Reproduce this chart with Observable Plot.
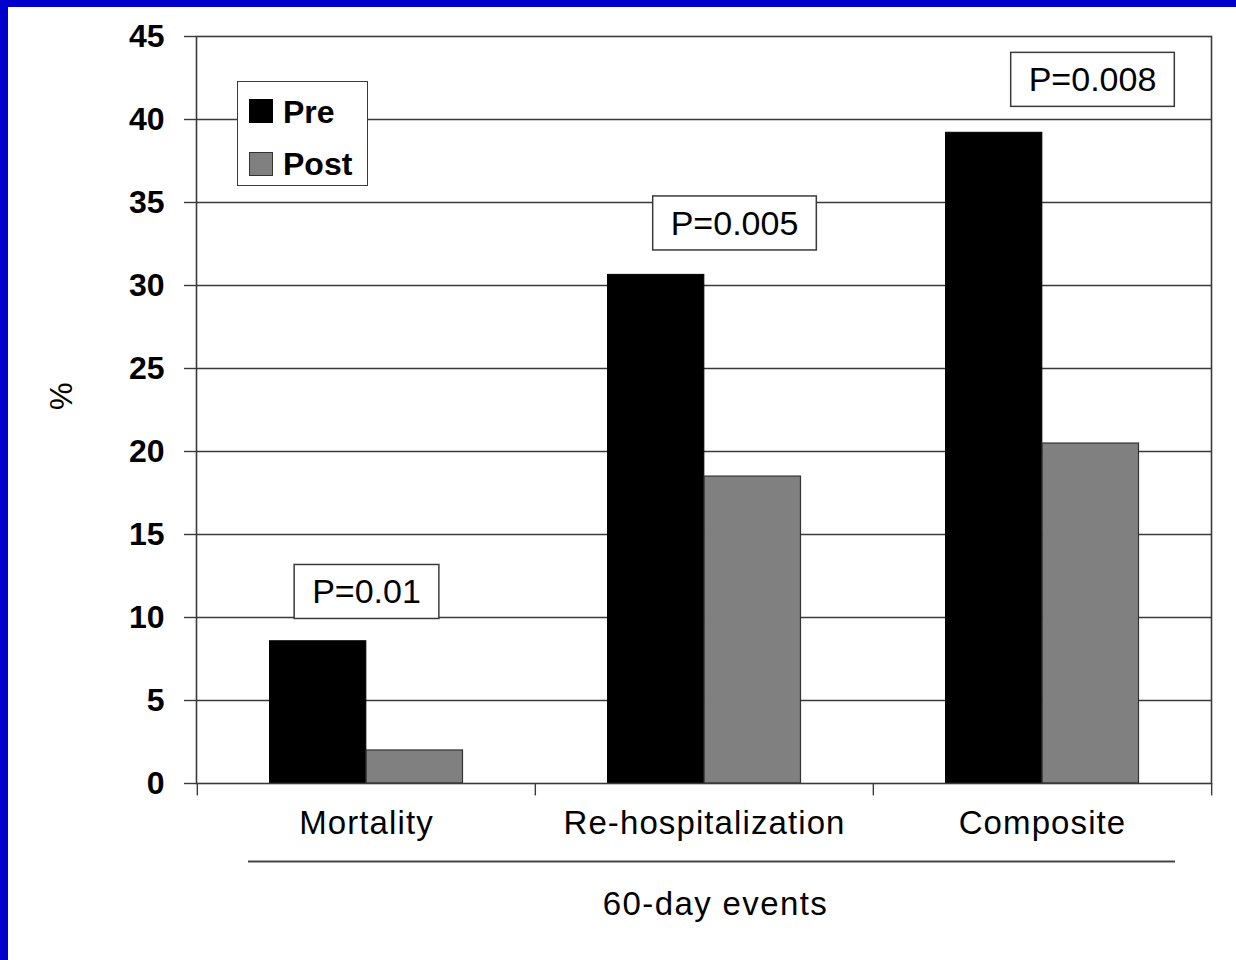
<!DOCTYPE html>
<html>
<head>
<meta charset="utf-8">
<script src="https://cdn.jsdelivr.net/npm/d3@7"></script>
<script src="https://cdn.jsdelivr.net/npm/@observablehq/plot@0.6"></script>
<style>
  html, body { margin: 0; padding: 0; background: #fff; }
  #wrap { position: relative; width: 1236px; height: 960px; overflow: hidden; background: #fff;
          font-family: "Liberation Sans", Arial, sans-serif; }
  #wrap svg { position: absolute; left: 0; top: 0; }
  .blue-top { position: absolute; left: 0; top: 0; width: 1236px; height: 7px; background: #0000cc; z-index: 5; }
  .blue-left { position: absolute; left: 0; top: 0; width: 8px; height: 960px; background: #0000cc; z-index: 5; }
  .legend { position: absolute; left: 237px; top: 81px; width: 131px; height: 105px; box-sizing: border-box;
            border: 1.6px solid #3a3a3a; background: #fff; z-index: 4; }
  .legend .sw { position: absolute; left: 11px; width: 24px; height: 24px; box-sizing: border-box; }
  .legend .lab { position: absolute; left: 45px; font-size: 32px; font-weight: bold; line-height: 1; color: #000; }
</style>
</head>
<body>
<div id="wrap"></div>
<script>
// ---- data ----
const categories = ["Mortality", "Re-hospitalization", "Composite"];
const series = ["Pre", "Post"];
const preValues = [8.57, 30.64, 39.2];
const postValues = [1.99, 18.49, 20.48];
const seriesColors = ["#000000", "#808080"];
const yTicks = [0, 5, 10, 15, 20, 25, 30, 35, 40, 45];
const pLabels = ["P=0.01", "P=0.005", "P=0.008"];
const pLabelY = [11.5, 33.7, 42.35];
const pLabelNudge = [0, 30, 50];
const yLabel = "%";
const xTitle = "60-day events";

const rows = categories.flatMap((c, i) => [
  {category: c, series: series[0], value: preValues[i]},
  {category: c, series: series[1], value: postValues[i]}
]);
const annotations = categories.map((c, i) => ({category: c, label: pLabels[i], y: pLabelY[i]}));

// ---- layout ----
const W = 1236, H = 960, mL = 196, mR = 25, mT = 36, mB = 177;
const bw = (W - mL - mR) / categories.length;
const outer = 72.5;
const lineColor = "#3a3a3a";

const chart = Plot.plot({
  width: W, height: H,
  marginLeft: mL, marginRight: mR, marginTop: mT, marginBottom: mB,
  style: {fontFamily: "'Liberation Sans', Arial, sans-serif", background: "transparent", color: "#000", overflow: "visible"},
  x: {type: "band", domain: categories, padding: 0},
  y: {domain: [0, 45]},
  marks: [
    Plot.ruleY(yTicks.filter(t => t > 0 && t < 45), {stroke: lineColor, strokeWidth: 1.4}),
    Plot.barY(rows.filter(d => d.series === series[0]), {
      x: "category", y: "value", fill: seriesColors[0], stroke: "#000", strokeWidth: 1,
      insetLeft: outer, insetRight: bw / 2
    }),
    Plot.barY(rows.filter(d => d.series === series[1]), {
      x: "category", y: "value", fill: seriesColors[1], stroke: "#333", strokeWidth: 1.2,
      insetLeft: bw / 2, insetRight: outer
    }),
    Plot.frame({stroke: lineColor, strokeWidth: 1.6}),
    Plot.axisY({ticks: yTicks, tickSize: 12, tickPadding: 20, fontSize: 32, fontWeight: "bold",
                label: null, stroke: lineColor, strokeWidth: 1.4}),
    Plot.axisX({tickSize: 0, tickPadding: 27, fontSize: 33, label: null}),
    Plot.ruleX(categories, {x: d => d, dx: -bw / 2, y1: -0.75, y2: 0, stroke: lineColor, strokeWidth: 1.4}),
    Plot.ruleX(categories.slice(-1), {x: d => d, dx: bw / 2, y1: -0.75, y2: 0, stroke: lineColor, strokeWidth: 1.4}),
    ...annotations.map((a, i) => Plot.text([a], {
      x: "category", y: "y", text: "label", dx: pLabelNudge[i],
      fontSize: 34, lineAnchor: "middle", fill: "#000"
    })),
    Plot.text([yLabel], {text: d => d, frameAnchor: "left", dx: -134, rotate: -90, fontSize: 31, fill: "#000"}),
    Plot.ruleY([0], {dy: 78, insetLeft: 52, insetRight: 36, stroke: "#444", strokeWidth: 2}),
    Plot.text([xTitle], {text: d => d, frameAnchor: "bottom", dy: 121, dx: 11.5, fontSize: 33, lineAnchor: "middle", fill: "#000"})
  ]
});

const wrap = document.getElementById("wrap");
wrap.appendChild(chart);

// slightly wider lettering, as in the reference
d3.select(chart).selectAll("text")
  .filter(function() { return categories.includes(this.textContent); })
  .style("letter-spacing", "1.1px");
d3.select(chart).selectAll("text")
  .filter(function() { return this.textContent === xTitle; })
  .style("letter-spacing", "1.4px");

// boxes behind the p-value labels
const svgns = "http://www.w3.org/2000/svg";
d3.select(chart).selectAll("text")
  .filter(function() { return pLabels.includes(this.textContent); })
  .each(function() {
    const b = this.getBBox();
    const r = document.createElementNS(svgns, "rect");
    const padX = 18, padY = 9;
    r.setAttribute("x", b.x - padX);
    r.setAttribute("y", b.y - padY + 1);
    r.setAttribute("width", b.width + 2 * padX);
    r.setAttribute("height", b.height + 2 * padY - 2);
    r.setAttribute("fill", "#fff");
    r.setAttribute("stroke", lineColor);
    r.setAttribute("stroke-width", 1.5);
    const t = this.getAttribute("transform");
    if (t) r.setAttribute("transform", t);
    this.parentNode.insertBefore(r, this);
  });

// legend
const legend = document.createElement("div");
legend.className = "legend";
series.forEach((s, i) => {
  const sw = document.createElement("div");
  sw.className = "sw";
  sw.style.top = (17 + i * 53) + "px";
  sw.style.background = seriesColors[i];
  sw.style.border = "1px solid " + (i === 0 ? "#000" : "#333");
  legend.appendChild(sw);
  const lab = document.createElement("div");
  lab.className = "lab";
  lab.style.top = (14 + i * 52) + "px";
  lab.textContent = s;
  legend.appendChild(lab);
});
wrap.appendChild(legend);

const bt = document.createElement("div"); bt.className = "blue-top"; wrap.appendChild(bt);
const bl = document.createElement("div"); bl.className = "blue-left"; wrap.appendChild(bl);
</script>
</body>
</html>
